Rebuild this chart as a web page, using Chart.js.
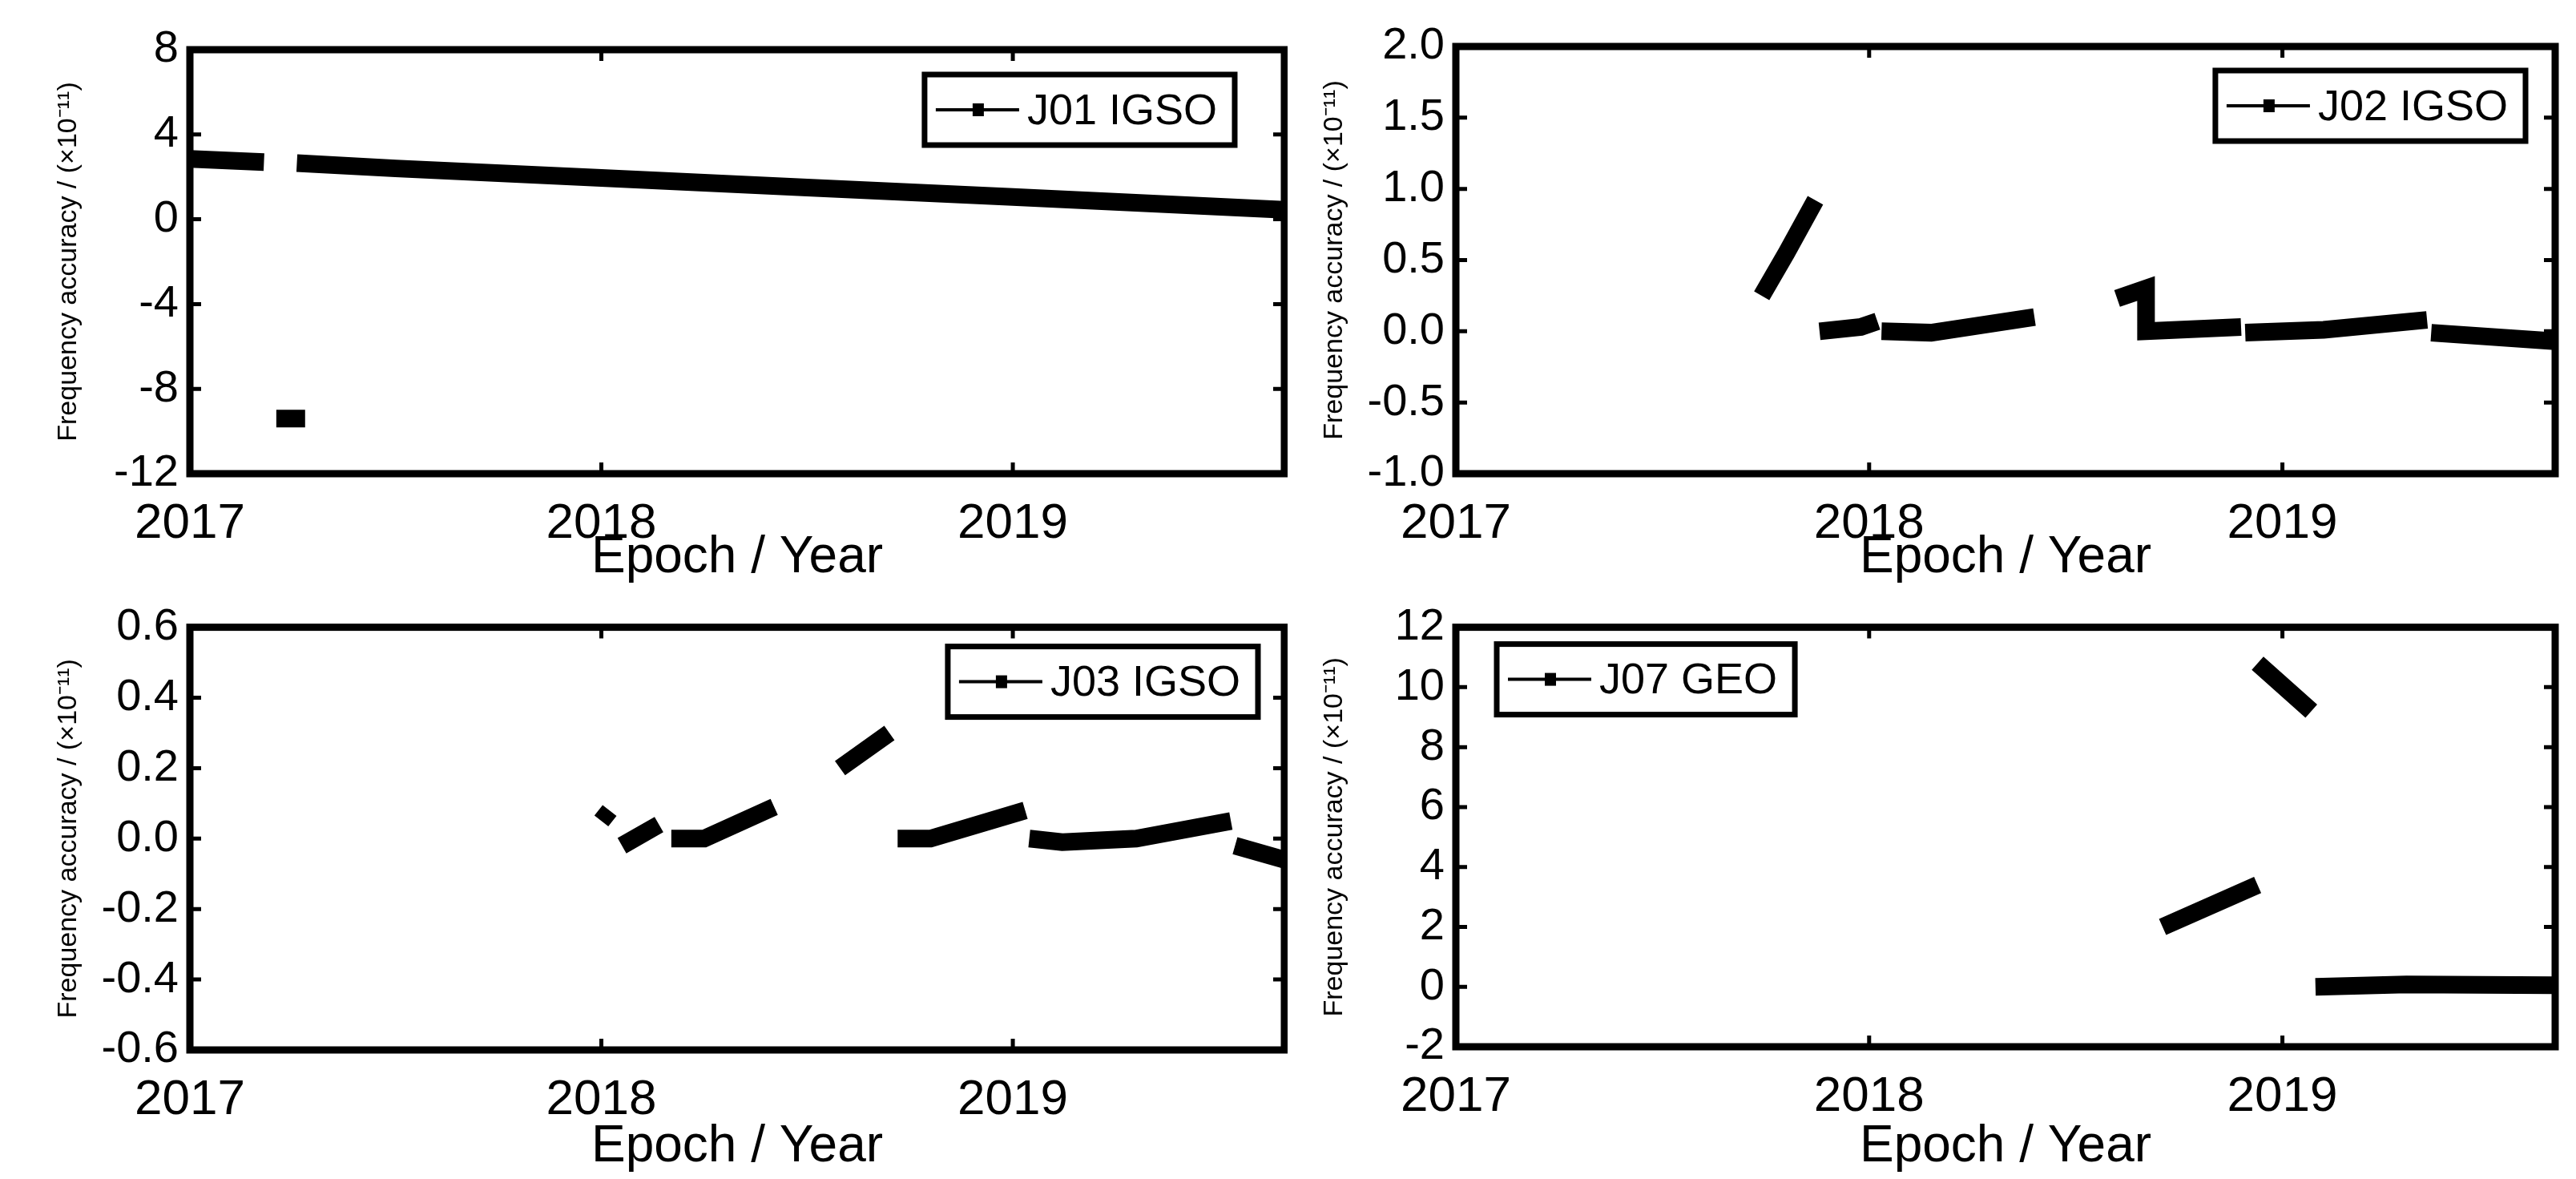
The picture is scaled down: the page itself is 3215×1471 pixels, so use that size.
<!DOCTYPE html>
<html><head><meta charset="utf-8">
<script src="https://cdn.jsdelivr.net/npm/chart.js@4/dist/chart.umd.min.js"></script>
<style>
html,body{margin:0;padding:0;background:#fff;width:3215px;height:1471px;overflow:hidden}
.p{position:absolute;width:1607px;height:735px}
canvas{display:block}
</style></head><body>
<div class="p" style="left:0;top:0"><canvas id="c0" width="1607" height="735"></canvas></div>
<div class="p" style="left:1607px;top:0"><canvas id="c1" width="1607" height="735"></canvas></div>
<div class="p" style="left:0;top:735px"><canvas id="c2" width="1607" height="735"></canvas></div>
<div class="p" style="left:1607px;top:735px"><canvas id="c3" width="1607" height="735"></canvas></div>
<script>
const xTicks = [2017, 2018, 2019];
const j01 = [[2017.0,2.85],[2017.18,2.7],null,[2017.26,2.65],[2017.5,2.4],[2018,1.95],[2018.5,1.5],[2019,1.05],[2019.66,0.45],null,[2017.21,-9.4],[2017.28,-9.4]];
const j02 = [[2017.74,0.25],[2017.8,0.55],[2017.87,0.92],null,[2017.88,0.0],[2017.98,0.03],[2018.02,0.07],null,[2018.03,0.0],[2018.15,-0.01],[2018.4,0.1],null,[2018.6,0.23],[2018.67,0.3],[2018.67,0.0],[2018.9,0.03],null,[2018.91,-0.01],[2019.1,0.01],[2019.35,0.08],null,[2019.36,-0.01],[2019.66,-0.07]];
const j03 = [[2018.0,0.05],[2018.02,0.08],null,[2018.05,-0.02],[2018.14,0.04],null,[2018.17,0.0],[2018.25,0.0],[2018.42,0.09],null,[2018.58,0.2],[2018.7,0.3],null,[2018.72,0.0],[2018.8,0.0],[2019.03,0.08],null,[2019.04,0.0],[2019.12,-0.01],[2019.3,0.0],[2019.53,0.05],null,[2019.54,-0.02],[2019.66,-0.06]];
const j07 = [[2018.71,2.0],[2018.94,3.4],null,[2018.94,10.8],[2019.07,9.2],null,[2019.08,0.0],[2019.3,0.08],[2019.66,0.05]];
const labels = ["J01 IGSO","J02 IGSO","J03 IGSO","J07 GEO"];
const yRanges = [[-12,8,4,0],[-1,2,0.5,1],[-0.6,0.6,0.2,1],[-2,12,2,0]];
const series = [j01,j02,j03,j07];
const layouts = [
 {padL:65, yW:172, top:62, bottom:591, right:4, leg:{side:'r',dx:62,dy:31}},
 {padL:38, yW:172, top:58, bottom:591, right:25, leg:{side:'r',dx:37,dy:30}},
 {padL:65, yW:172, top:44, bottom:575, right:4, leg:{side:'r',dx:33,dy:24}},
 {padL:38, yW:172, top:44, bottom:571, right:25, leg:{side:'l',dx:51,dy:21}}
];
const narrow = '"Liberation Sans Narrow","Liberation Sans",Arial,sans-serif';
function toPts(a){return a.map(p=>p?{x:p[0],y:p[1]}:{x:NaN,y:null});}
const framePlugin = {id:'frame', afterDatasetsDraw(ch, a, o){
  const c=ch.ctx, A=ch.chartArea, xs=ch.scales.x, ys=ch.scales.y;
  c.save(); c.strokeStyle='#000'; c.lineWidth=9;
  c.strokeRect(A.left,A.top,A.right-A.left,A.bottom-A.top);
  c.lineWidth=5; const L=14;
  xs.ticks.forEach(t=>{const px=xs.getPixelForValue(t.value);c.beginPath();c.moveTo(px,A.bottom);c.lineTo(px,A.bottom-L);c.moveTo(px,A.top);c.lineTo(px,A.top+L);c.stroke();});
  ys.ticks.forEach(t=>{const py=ys.getPixelForValue(t.value);c.beginPath();c.moveTo(A.left,py);c.lineTo(A.left+L,py);c.moveTo(A.right,py);c.lineTo(A.right-L,py);c.stroke();});
  const lg=o.leg, w=o.w, h=88;
  const x0 = lg.side==='r'? A.right-lg.dx-w : A.left+lg.dx, y0=A.top+lg.dy;
  c.fillStyle='#fff'; c.fillRect(x0,y0,w,h);
  c.lineWidth=7; c.strokeRect(x0,y0,w,h);
  c.lineWidth=4; c.beginPath(); c.moveTo(x0+14,y0+h/2); c.lineTo(x0+118,y0+h/2); c.stroke();
  c.fillStyle='#000'; c.fillRect(x0+60,y0+h/2-8,14,16);
  c.font='54px '+narrow; c.textBaseline='middle'; c.textAlign='left';
  c.fillText(o.label,x0+128,y0+h/2+3);
  c.restore();
}};
series.forEach((s,i)=>{
  const L=layouts[i], r=yRanges[i];
  const ctx=document.getElementById('c'+i).getContext('2d');
  ctx.font='54px '+narrow;
  const lw=ctx.measureText(labels[i]).width+150;
  new Chart(ctx,{type:'line',
   data:{datasets:[{data:toPts(s),borderColor:'#000',backgroundColor:'#000',borderWidth:22,pointRadius:0,spanGaps:false,borderCapStyle:'butt',tension:0}]},
   options:{responsive:false,animation:false,devicePixelRatio:1,
    layout:{padding:{left:L.padL,top:L.top,right:L.right,bottom:0}},
    plugins:{legend:{display:false},tooltip:{enabled:false},frame:{leg:L.leg,w:lw,label:labels[i]}},
    scales:{
     x:{type:'linear',min:2017,max:2019.66,
       afterBuildTicks:sc=>{sc.ticks=xTicks.map(v=>({value:v}));},
       afterFit:sc=>{sc.height=735-L.bottom;},
       grid:{display:false,drawTicks:false},border:{display:false},
       ticks:{color:'#000',font:{family:narrow,size:62},padding:26,maxRotation:0,autoSkip:false,callback:v=>String(v)},
       title:{display:true,text:'Epoch / Year',color:'#000',font:{family:narrow,size:64},padding:{top:0,bottom:0}}},
     y:{min:r[0],max:r[1],
       afterBuildTicks:sc=>{const t=[];for(let k=0;r[0]+k*r[2]<=r[1]+1e-9;k++)t.push({value:+(r[0]+k*r[2]).toFixed(2)});sc.ticks=t;},
       afterFit:sc=>{sc.width=L.yW;},
       grid:{display:false,drawTicks:false},border:{display:false},
       ticks:{color:'#000',font:{family:narrow,size:56},padding:14,callback:v=>Number(v).toFixed(r[3])},
       title:{display:true,text:'Frequency accuracy / (×10⁻¹¹)',color:'#000',font:{family:'"Liberation Sans",Arial,sans-serif',size:34},padding:0}}
    }},
   plugins:[framePlugin]});
});
</script>
</body></html>
